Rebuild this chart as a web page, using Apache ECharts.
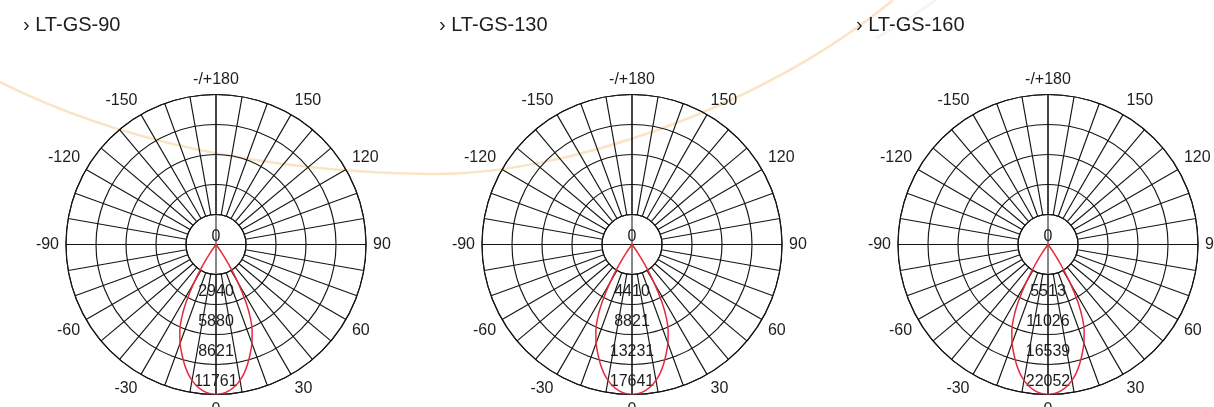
<!DOCTYPE html>
<html>
<head>
<meta charset="utf-8">
<script src="https://cdn.jsdelivr.net/npm/echarts@6/dist/echarts.min.js"></script>
<style>
html,body{margin:0;padding:0;background:#fff;}
#main{width:1214px;height:407px;}
</style>
</head>
<body>
<div id="main"></div>
<script>
// ---- data ----
var titles = ["\u203A LT-GS-90", "\u203A LT-GS-130", "\u203A LT-GS-160"];
var angleLabels = ["0", "30", "60", "90", "120", "150", "-/+180", "-150", "-120", "-90", "-60", "-30", ""];
var ringLabels90 = ["", "2940", "5880", "8621", "11761"];
var ringLabels130 = ["", "4410", "8821", "13231", "17641"];
var ringLabels160 = ["", "5513", "11026", "16539", "22052"];
var peak90 = 11761, peak130 = 17641, peak160 = 22052;
var curveAngles = [-37.5, -35, -32.5, -30, -27.5, -25, -22.5, -20, -17.5, -15, -12.5, -10, -7.5, -5, -2.5, 0,
                   2.5, 5, 7.5, 10, 12.5, 15, 17.5, 20, 22.5, 25, 27.5, 30, 32.5, 35, 37.5];
var gs90 = [0, 705, 1880, 3410, 5055, 6410, 7410, 8235, 8940, 9645, 10290, 10820, 11230, 11525, 11700, 11761,
            11700, 11525, 11230, 10820, 10290, 9645, 8940, 8235, 7410, 6410, 5055, 3410, 1880, 705, 0];
var gs130 = [0, 1060, 2820, 5115, 7585, 9615, 11115, 12350, 13405, 14465, 15435, 16230, 16850, 17290, 17550, 17641,
             17550, 17290, 16850, 16230, 15435, 14465, 13405, 12350, 11115, 9615, 7585, 5115, 2820, 1060, 0];
var gs160 = [0, 1325, 3530, 6395, 9480, 12020, 13895, 15435, 16760, 18085, 19295, 20290, 21060, 21610, 21940, 22052,
             21940, 21610, 21060, 20290, 19295, 18085, 16760, 15435, 13895, 12020, 9480, 6395, 3530, 1325, 0];

// ---- layout / style ----
var charts = [
  {title: titles[0], rings: ringLabels90, peak: peak90, values: gs90, cx: 216, tx: 23},
  {title: titles[1], rings: ringLabels130, peak: peak130, values: gs130, cx: 632, tx: 439},
  {title: titles[2], rings: ringLabels160, peak: peak160, values: gs160, cx: 1048, tx: 856}
];
var CY = 244.5, R0 = 30, R = 150;
var gridColor = '#161616', textColor = '#1e1e1e', curveColor = '#e52a3a';
var GRID_W = 1.15;
var FONT = 'Liberation Sans';

var option = {
  animation: false,
  backgroundColor: '#ffffff',
  textStyle: {fontFamily: FONT},
  title: [], polar: [], angleAxis: [], radiusAxis: [], series: [],
  graphic: [
    {type: 'bezierCurve', z: -10, silent: true,
     shape: {x1: 0, y1: 82, cpx1: 140, cpy1: 152, cpx2: 300, cpy2: 172, x2: 430, y2: 174},
     style: {fill: null, stroke: '#fbe3c6', lineWidth: 2.5}},
    {type: 'bezierCurve', z: -10, silent: true,
     shape: {x1: 430, y1: 174, cpx1: 560, cpy1: 176, cpx2: 760, cpy2: 110, x2: 893, y2: 0},
     style: {fill: null, stroke: '#fbe3c6', lineWidth: 2.5}},
    {type: 'bezierCurve', z: -11, silent: true,
     shape: {x1: 876, y1: 38, cpx1: 897, cpy1: 27, cpx2: 916, cpy2: 14, x2: 936, y2: 0},
     style: {fill: null, stroke: '#f5f5f5', lineWidth: 3}}
  ]
};

charts.forEach(function (c, k) {
  option.title.push({
    text: c.title, left: c.tx, top: 15, padding: 0,
    textStyle: {fontSize: 20, fontWeight: 'normal', color: textColor, fontFamily: FONT}
  });
  var a = k * 2, b = k * 2 + 1;
  // grid polar (rings + spokes + labels)
  option.polar.push({center: [c.cx, CY], radius: [R0, R]});
  option.angleAxis.push({
    polarIndex: a, type: 'value', min: 0, max: 360, interval: 30,
    startAngle: 270, clockwise: false,
    axisLine: {show: true, lineStyle: {color: gridColor, width: GRID_W}},
    axisTick: {show: false},
    axisLabel: {show: true, margin: 7, fontSize: 16, color: textColor, fontFamily: FONT,
      formatter: function (v) { return angleLabels[Math.round(v / 30)] || ''; }},
    splitLine: {show: true, lineStyle: {color: gridColor, width: GRID_W}},
    minorTick: {show: false, splitNumber: 3},
    minorSplitLine: {show: true, lineStyle: {color: gridColor, width: GRID_W}}
  });
  option.radiusAxis.push({
    polarIndex: a, type: 'value', min: 0, max: 4, interval: 1,
    axisLine: {show: false}, axisTick: {show: false},
    splitLine: {show: true, lineStyle: {color: gridColor, width: GRID_W}},
    axisLabel: {show: true, margin: 0, fontSize: 16, color: textColor, fontFamily: FONT,
      align: 'center', verticalAlign: 'bottom', padding: [0, 0, 5, 0],
      showMinLabel: true, showMaxLabel: true,
      formatter: (function (labels) { return function (v) { return labels[Math.round(v)] || ''; }; })(c.rings)}
  });
  // curve polar (full radius from centre, diameters)
  option.polar.push({center: [c.cx, CY], radius: [0, R]});
  option.angleAxis.push({
    polarIndex: b, type: 'value', min: -180, max: 180, interval: 90,
    startAngle: 90, clockwise: false,
    axisLine: {show: false}, axisTick: {show: false}, axisLabel: {show: false},
    splitLine: {show: true, lineStyle: {color: '#111111', width: 1}}
  });
  option.radiusAxis.push({
    polarIndex: b, type: 'value', min: 0, max: c.peak,
    axisLine: {show: false}, axisTick: {show: false}, splitLine: {show: false},
    axisLabel: {show: true, margin: 0, fontSize: 16, color: textColor, fontFamily: FONT,
      align: 'center', verticalAlign: 'bottom', showMinLabel: true, showMaxLabel: false,
      formatter: function (v) { return v === 0 ? '0' : ''; }}
  });
  option.series.push({
    type: 'line', coordinateSystem: 'polar', polarIndex: b,
    showSymbol: false, symbol: 'none', smooth: 0.3, clip: false, z: 5,
    lineStyle: {color: curveColor, width: 1.5},
    data: curveAngles.map(function (ang, i) { return [c.values[i], ang]; })
  });
});

var chart = echarts.init(document.getElementById('main'), null, {renderer: 'canvas'});
chart.setOption(option);
</script>
</body>
</html>
